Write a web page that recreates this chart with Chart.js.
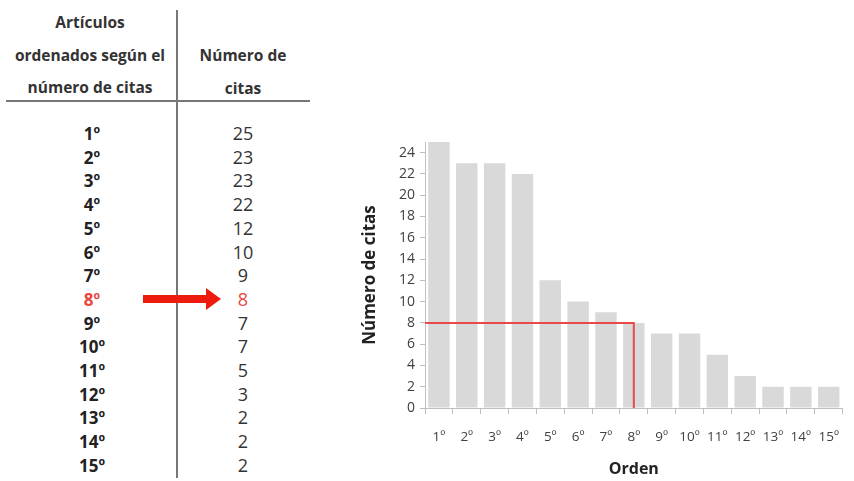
<!DOCTYPE html>
<html><head><meta charset="utf-8">
<script src="https://cdn.jsdelivr.net/npm/chart.js@4.4.1/dist/chart.umd.min.js"></script>
<style>
html,body{margin:0;padding:0;background:#fff;width:854px;height:481px;overflow:hidden;font-family:"Open Sans",sans-serif;}
#wrap{position:relative;width:854px;height:481px;}
.t{position:absolute;transform:translate(-50%,-50%);white-space:nowrap;color:#222;}
.h{font-weight:700;font-size:15.5px;color:#333;}
.r{font-weight:700;font-size:17px;color:#222;}
.v{font-weight:400;font-size:18px;color:#333;}
.red{color:#e8463f !important;}
#cv{position:absolute;left:350px;top:120px;}
</style></head>
<body><div id="wrap">
<div style="position:absolute;left:176px;top:10px;width:1.5px;height:468px;background:#777;"></div>
<div style="position:absolute;left:6px;top:100px;width:304px;height:1.5px;background:#777;"></div>
<svg style="position:absolute;left:140px;top:286px" width="84" height="26"><polygon points="3,9 66,9 66,2 81,13 66,24 66,17 3,17" fill="#ee1c0e"/></svg>
<canvas id="cv" width="504" height="361"></canvas>
</div>
<script>
const headerLeft = ["Artículos", "ordenados según el", "número de citas"];
const headerRight = ["Número de", "citas"];
const ordinals = ["1º","2º","3º","4º","5º","6º","7º","8º","9º","10º","11º","12º","13º","14º","15º"];
const citas = [25,23,23,22,12,10,9,8,7,7,5,3,2,2,2];
const yTicks = [0,2,4,6,8,10,12,14,16,18,20,22,24];
const hIndex = 7;
const yAxisTitle = "Número de citas";
const xAxisTitle = "Orden";

const wrap = document.getElementById('wrap');
function addText(txt, x, y, cls){
  const d = document.createElement('div');
  d.className = 't ' + cls; d.textContent = txt;
  d.style.left = x + 'px'; d.style.top = y + 'px';
  wrap.appendChild(d);
}
headerLeft.forEach((s,i)=>addText(s, 90, 22 + i*32.5, 'h'));
headerRight.forEach((s,i)=>addText(s, 243, 55 + i*32.5, 'h'));
ordinals.forEach((s,i)=>{
  const y = 133 + i*23.7;
  addText(s, 92, y, 'r' + (i===hIndex?' red':''));
  addText(String(citas[i]), 243, y, 'v' + (i===hIndex?' red':''));
});

const hPlugin = {
  id:'hindex',
  afterDatasetsDraw(chart){
    const xs = chart.scales.x, ys = chart.scales.y, ctx = chart.ctx;
    const px = xs.getPixelForValue(hIndex);
    const py = ys.getPixelForValue(citas[hIndex]);
    const p0 = ys.getPixelForValue(0);
    ctx.save();
    ctx.strokeStyle = '#e84a4a'; ctx.lineWidth = 2;
    ctx.beginPath();
    ctx.moveTo(chart.chartArea.left, py);
    ctx.lineTo(px, py);
    ctx.lineTo(px, p0);
    ctx.stroke();
    ctx.restore();
  }
};

new Chart(document.getElementById('cv'), {
  type:'bar',
  data:{labels:ordinals, datasets:[{data:citas, backgroundColor:'#d9d9d9', borderWidth:0, categoryPercentage:1, barPercentage:0.77}]},
  options:{
    responsive:false, animation:false,
    layout:{padding:{top:22,right:2,bottom:0,left:0}},
    plugins:{legend:{display:false}, tooltip:{enabled:false}},
    scales:{
      x:{
        grid:{display:true, drawOnChartArea:false, tickLength:6, color:'#bfbfbf', offset:true},
        border:{display:true, color:'#bfbfbf'},
        ticks:{color:'#404040', font:{family:'Open Sans', size:13.5}, padding:15, maxRotation:0, autoSkip:false},
        title:{display:true, text:xAxisTitle, color:'#222', font:{family:'Open Sans', size:16, weight:'bold'}, padding:{top:0,bottom:2}},
        afterFit(s){ s.height = 73; }
      },
      y:{
        min:0, max:25,
        grid:{display:true, drawOnChartArea:false, tickLength:5, color:'#bfbfbf'},
        border:{display:true, color:'#bfbfbf'},
        ticks:{color:'#404040', font:{family:'Open Sans', size:14}, padding:5},
        afterBuildTicks(s){ s.ticks = yTicks.map(v=>({value:v})); },
        title:{display:true, text:yAxisTitle, color:'#222', font:{family:'Open Sans', size:17, weight:'bold'}, padding:{top:10,bottom:0}},
        afterFit(s){ s.width = 75; }
      }
    }
  },
  plugins:[hPlugin]
});
</script>
</body></html>
